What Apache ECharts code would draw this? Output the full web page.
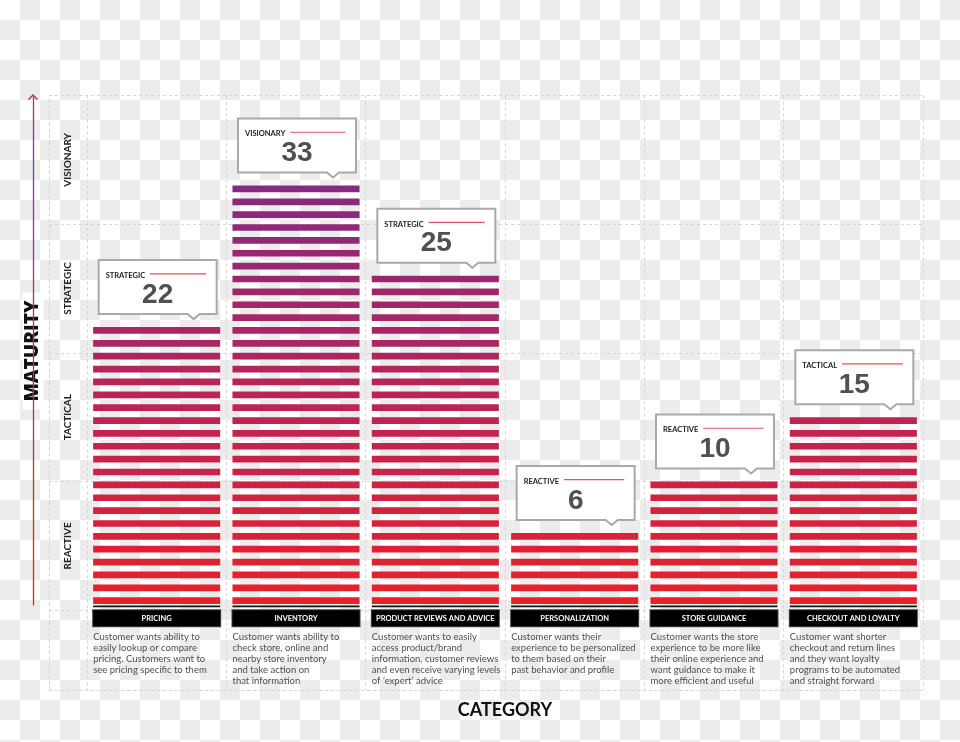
<!DOCTYPE html>
<html><head><meta charset="utf-8">
<script src="https://cdn.jsdelivr.net/npm/echarts@6/dist/echarts.min.js"></script>
<style>
html,body{margin:0;padding:0;}
#chart{width:960px;height:742px;background: repeating-conic-gradient(#ececec 0 25%, #ffffff 0 50%) 0 0/40px 40px;}
</style></head><body><div id="chart"></div>
<script>
// ---------- data ----------
const categories = ['PRICING', 'INVENTORY', 'PRODUCT REVIEWS AND ADVICE', 'PERSONALIZATION', 'STORE GUIDANCE', 'CHECKOUT AND LOYALTY'];
const scores = [22, 33, 25, 6, 10, 15];          // numbers printed in the callouts
const stripeCounts = [22, 33, 26, 6, 10, 15];    // stripes drawn in each bar (as pictured)
const levelNames = ['STRATEGIC', 'VISIONARY', 'STRATEGIC', 'REACTIVE', 'REACTIVE', 'TACTICAL'];
const maturityLevels = ['REACTIVE', 'TACTICAL', 'STRATEGIC', 'VISIONARY'];
const descriptions = [
  'Customer wants ability to\neasily lookup or compare\npricing. Customers want to\nsee pricing specific to them',
  'Customer wants ability to\ncheck store, online and\nnearby store inventory\nand take action on\nthat information',
  'Customer wants to easily\naccess product/brand\ninformation, customer reviews\nand even receive varying levels\nof \u2018expert\u2019 advice',
  'Customer wants their\nexperience to be personalized\nto them based on their\npast behavior and profile',
  'Customer wants the store\nexperience to be more like\ntheir online experience and\nwant guidance to make it\nmore efficient and useful',
  'Customer want shorter\ncheckout and return lines\nand they want loyalty\nprograms to be automated\nand straight forward'
];
const yMax = 40;

// ---------- styling helpers ----------
const RED = [0xe8, 0x20, 0x2c], PURPLE = [0x86, 0x2a, 0x82];
function stripeColor(level) {
  const t = Math.max(0, Math.min(1, (level - 1) / 32));
  const c = RED.map((r, k) => Math.round(r + (PURPLE[k] - r) * t));
  return 'rgb(' + c.join(',') + ')';
}
const measureCtx = document.createElement('canvas').getContext('2d');
function textWidth(t, font) { measureCtx.font = font; return measureCtx.measureText(t).width; }
const dashed = { color: '#d6d6d6', type: [3, 3], width: 1 };

function renderBar(params, api) {
  const idx = api.value(0), v = api.value(1), score = api.value(2);
  const base = api.coord([idx, 0]);
  const unit = api.size([0, 1])[1];
  const band = api.size([1, 0])[0];
  const bw = band * 0.912;
  const x0 = base[0] - bw / 2;
  const kids = [];
  for (let i = 1; i <= v; i++) {
    const y = api.coord([idx, i])[1];
    kids.push({ type: 'rect', shape: { x: x0, y: y, width: bw, height: unit * 0.52 }, style: { fill: stripeColor(i) } });
  }
  kids.push({ type: 'rect', shape: { x: x0, y: base[1] - 4.6, width: bw, height: 1.6 }, style: { fill: '#111' } });
  // callout
  const top = api.coord([idx, v])[1];
  const B = top - 13, T = B - 54, L = base[0] - 58, R = L + 118, nx = L + 95;
  kids.push({ type: 'polygon', shape: { points: [[L, T], [R, T], [R, B], [nx + 6, B], [nx, B + 5], [nx - 6, B], [L, B]] },
    style: { fill: '#fff', stroke: '#a9a9a9', lineWidth: 2 } });
  const lvl = levelNames[params.dataIndex];
  const tw = textWidth(lvl, 'bold 7.5px Lato');
  kids.push({ type: 'text', style: { text: lvl, x: L + 7, y: T + 15.5, fontSize: 7.5, fontWeight: 'bold', fontFamily: 'Lato', fill: '#222', align: 'left', verticalAlign: 'middle' } });
  kids.push({ type: 'line', shape: { x1: L + 7 + tw + 5, y1: T + 13.7, x2: L + 107.5, y2: T + 13.7 }, style: { stroke: '#e0515f', lineWidth: 1.2 } });
  kids.push({ type: 'text', style: { text: String(score), x: L + 59, y: T + 35, fontSize: 28, fontWeight: 'bold', fontFamily: '"Liberation Sans", Arial', fill: '#505050', align: 'center', verticalAlign: 'middle' } });
  return { type: 'group', children: kids };
}

const chart = echarts.init(document.getElementById('chart'), null, { renderer: 'canvas' });
chart.setOption({
  backgroundColor: 'transparent',
  animation: false,
  grid: [
    { left: 87, right: 37, top: 95.5, bottom: 131.8, outerBoundsMode: 'none' },
    { left: 49, right: 37, top: 95.5, bottom: 131.8, outerBoundsMode: 'none' },
    { left: 49, right: 37, top: 95.5, bottom: 52, outerBoundsMode: 'none' },
    { left: 33, width: 10, top: 97, bottom: 137, outerBoundsMode: 'none' },
    { left: 87, right: 37, top: 610.2, bottom: 52, outerBoundsMode: 'none' }
  ],
  xAxis: [
    { gridIndex: 0, type: 'category', data: categories, boundaryGap: true, position: 'bottom',
      axisLine: { show: false }, axisTick: { show: false },
      splitLine: { show: true, interval: 0, lineStyle: dashed },
      axisLabel: { interval: 0, margin: 0, align: 'center', verticalAlign: 'top',
        formatter: (v, i) => '{t|' + v + '}\n{s| }\n{d|' + descriptions[i] + '}',
        rich: {
          t: { backgroundColor: '#000', borderColor: '#444', borderWidth: 1, color: '#fff', width: 127, height: 16, lineHeight: 16, align: 'center', fontSize: 7.5, fontWeight: 'bold', fontFamily: 'Lato' },
          s: { height: 5, lineHeight: 5, fontSize: 4 },
          d: { color: '#4d4d4d', fontSize: 9.5, lineHeight: 11, width: 127, align: 'left', fontFamily: 'Lato' }
        } },
      name: 'CATEGORY', nameLocation: 'middle', nameGap: 91,
      nameTextStyle: { fontSize: 18, fontWeight: 'bold', fontFamily: 'Lato', color: '#111' } },
    { gridIndex: 1, type: 'value', show: false },
    { gridIndex: 2, type: 'value', min: 0, max: 1, axisLine: { show: true, onZero: false, lineStyle: dashed }, axisTick: { show: false }, axisLabel: { show: false }, splitLine: { show: false } },
    { gridIndex: 3, type: 'value', show: false },
    { gridIndex: 4, type: 'category', data: categories, boundaryGap: true,
      axisLine: { show: false }, axisTick: { show: false }, axisLabel: { show: false },
      splitLine: { show: true, interval: 0, lineStyle: dashed } }
  ],
  yAxis: [
    { gridIndex: 0, type: 'value', min: 0, max: yMax, show: false },
    { gridIndex: 1, type: 'category', data: maturityLevels, boundaryGap: true,
      axisLine: { show: false }, axisTick: { show: false },
      splitLine: { show: true, interval: 0, lineStyle: dashed },
      axisLabel: { inside: true, rotate: 90, margin: 14, interval: 0, fontSize: 10, fontWeight: 'bold', color: '#222', fontFamily: 'Lato' } },
    { gridIndex: 2, type: 'value', min: 0, max: 1, axisLine: { show: true, onZero: false, lineStyle: dashed }, axisTick: { show: false }, axisLabel: { show: false }, splitLine: { show: false } },
    { gridIndex: 3, type: 'value', min: 0, max: 1,
      axisLine: { show: true, symbol: ['none', 'path://M0,5 L5,0 L10,5 L9,6 L5,2 L1,6 Z'], symbolSize: [10, 6],
        lineStyle: { width: 1.3, color: new echarts.graphic.LinearGradient(0, 0, 0, 1, [{ offset: 0, color: '#8b3a8b' }, { offset: 1, color: '#dd2433' }]) } },
      axisTick: { show: false }, axisLabel: { show: false }, splitLine: { show: false },
      name: 'MATURITY', nameLocation: 'middle', nameGap: 0, nameRotate: 90,
      nameTextStyle: { fontSize: 19, fontWeight: 800, fontFamily: '"Open Sans", Lato', color: '#111', backgroundColor: '#fff', padding: [1, 8, 1, 8], verticalAlign: 'middle' } },
    { gridIndex: 4, type: 'value', show: false }
  ],
  series: [
    { type: 'custom', xAxisIndex: 0, yAxisIndex: 0, renderItem: renderBar, clip: false, z: 3,
      encode: { x: 0, y: 1 },
      data: stripeCounts.map((v, i) => [i, v, scores[i]]) }
  ]
});
</script></body></html>
